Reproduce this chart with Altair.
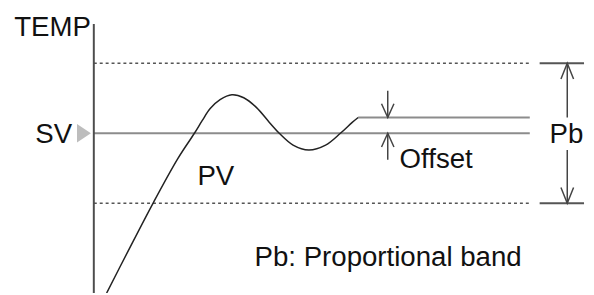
import altair as alt
import pandas as pd

# ---- data (time units, temperature units) ----
pv_t = [1.3, 3.5, 6.0, 8.5, 10.2, 11.0, 11.8, 12.8, 14.0, 15.2, 16.5, 17.8, 18.8,
        20.2, 21.8, 23.5, 25.0, 26.2, 26.8]
pv_v = [77.18, 83.24, 90.0, 96.34, 100.0, 101.83, 103.52, 104.79, 105.49, 105.07,
        103.66, 101.55, 100.0, 98.31, 97.61, 98.31, 100.0, 101.55, 102.25]

SV = 100.0
PB_HIGH = 110.0
PB_LOW = 90.0
OFFSET_LEVEL = 102.25
T_END = 44.2
T_SETTLE = 26.8

AXIS_TOP = 115.6
Y_MIN, Y_MAX = 77.183, 117.606
X_MIN, X_MAX = -8.7, 49.9

right_texts = ["TEMP", "SV"]
right_t = [-0.3, -2.2]
right_v = [113.94, 98.59]

left_texts = ["PV", "Offset", "Pb", "Pb: Proportional band"]
left_t = [10.5, 31.0, 46.2, 16.3]
left_v = [92.68, 95.07, 98.59, 80.99]

PB_T = 48.0
PB_GAP = [102.25, 97.61]
OFF_T = 29.8
OFF_TOP = 106.06
OFF_BOT = 96.20
BRACKET_T = [45.2, 49.7]

W, H = 586, 287
xs = alt.Scale(domain=[X_MIN, X_MAX], nice=False, zero=False)
ys = alt.Scale(domain=[Y_MIN, Y_MAX], nice=False, zero=False)
X = lambda f: alt.X(f, type="quantitative", scale=xs, axis=None)
Y = lambda f: alt.Y(f, type="quantitative", scale=ys, axis=None)

font = "Liberation Sans"
FS = 28

# axis line
axis_df = pd.DataFrame({"t": [0.0], "v1": [Y_MIN], "v2": [AXIS_TOP]})
axis_line = alt.Chart(axis_df).mark_rule(color="#4d4d4d", strokeWidth=2).encode(
    x=X("t"), y=Y("v1"), y2="v2")

# dashed band limits
band_df = pd.DataFrame({"t1": [0.0, 0.0], "t2": [T_END, T_END], "v": [PB_HIGH, PB_LOW]})
band = alt.Chart(band_df).mark_rule(color="#555555", strokeWidth=1.5, strokeDash=[3, 3]).encode(
    x=X("t1"), x2="t2", y=Y("v"))

# SV line and offset level
grey_df = pd.DataFrame({"t1": [0.0, T_SETTLE], "t2": [T_END, T_END], "v": [SV, OFFSET_LEVEL]})
grey_lines = alt.Chart(grey_df).mark_rule(color="#8c8c8c", strokeWidth=2).encode(
    x=X("t1"), x2="t2", y=Y("v"))

# PV curve
pv_df = pd.DataFrame({"t": pv_t, "v": pv_v})
pv = alt.Chart(pv_df).mark_line(color="#222222", strokeWidth=1.5, interpolate="catmull-rom",
                                clip=True).encode(x=X("t"), y=Y("v"))

# right bracket lines
br_df = pd.DataFrame({"t1": [BRACKET_T[0]] * 2, "t2": [BRACKET_T[1]] * 2, "v": [PB_HIGH, PB_LOW]})
brackets = alt.Chart(br_df).mark_rule(color="#555555", strokeWidth=2).encode(
    x=X("t1"), x2="t2", y=Y("v"))

# vertical arrow shafts
shaft_df = pd.DataFrame({
    "t": [PB_T, PB_T, OFF_T, OFF_T],
    "v1": [PB_HIGH, PB_LOW, OFF_TOP, SV],
    "v2": [PB_GAP[0], PB_GAP[1], OFFSET_LEVEL, OFF_BOT],
})
shafts = alt.Chart(shaft_df).mark_rule(color="#444444", strokeWidth=1.5).encode(
    x=X("t"), y=Y("v1"), y2="v2")

# arrowheads
up_df = pd.DataFrame({"t": [PB_T], "v": [PB_HIGH]})
down_df = pd.DataFrame({"t": [PB_T], "v": [PB_LOW]})
up_head = alt.Chart(up_df).mark_point(shape="M-0.4,1 L0,0 L0.4,1", size=1024, filled=False,
                                      color="#444444", strokeWidth=1.5, opacity=1).encode(
    x=X("t"), y=Y("v"))
down_head = alt.Chart(down_df).mark_point(shape="M-0.4,-1 L0,0 L0.4,-1", size=1024, filled=False,
                                          color="#444444", strokeWidth=1.5, opacity=1).encode(
    x=X("t"), y=Y("v"))
off_down_df = pd.DataFrame({"t": [OFF_T], "v": [OFFSET_LEVEL]})
off_up_df = pd.DataFrame({"t": [OFF_T], "v": [SV]})
off_down = alt.Chart(off_down_df).mark_point(shape="M-0.45,-1 L0,0 L0.45,-1", size=784, filled=False,
                                             color="#444444", strokeWidth=1.5, opacity=1).encode(
    x=X("t"), y=Y("v"))
off_up = alt.Chart(off_up_df).mark_point(shape="M-0.45,1 L0,0 L0.45,1", size=784, filled=False,
                                         color="#444444", strokeWidth=1.5, opacity=1).encode(
    x=X("t"), y=Y("v"))

# SV marker triangle
tri_df = pd.DataFrame({"t": [-1.0], "v": [SV]})
tri = alt.Chart(tri_df).mark_point(shape="M-0.74,-1 L0.74,0 L-0.74,1 Z", size=361, filled=True,
                                   color="#bdbdbd", opacity=1).encode(x=X("t"), y=Y("v"))

# texts
rt_df = pd.DataFrame({"txt": right_texts, "t": right_t, "v": right_v})
lt_df = pd.DataFrame({"txt": left_texts, "t": left_t, "v": left_v})
rtext = alt.Chart(rt_df).mark_text(align="right", baseline="alphabetic", font=font, fontSize=FS,
                                   color="#111111").encode(x=X("t"), y=Y("v"), text="txt:N")
ltext = alt.Chart(lt_df).mark_text(align="left", baseline="alphabetic", font=font, fontSize=FS,
                                   color="#111111").encode(x=X("t"), y=Y("v"), text="txt:N")

chart = alt.layer(
    band, grey_lines, pv, axis_line, brackets, shafts,
    up_head, down_head, off_down, off_up, tri, rtext, ltext
).properties(
    width=W, height=H, autosize=alt.AutoSizeParams(type="none"), padding=0,
    background="white"
).configure_view(stroke=None)

chart.save("out.html", embed_options={"renderer": "svg", "actions": False})
